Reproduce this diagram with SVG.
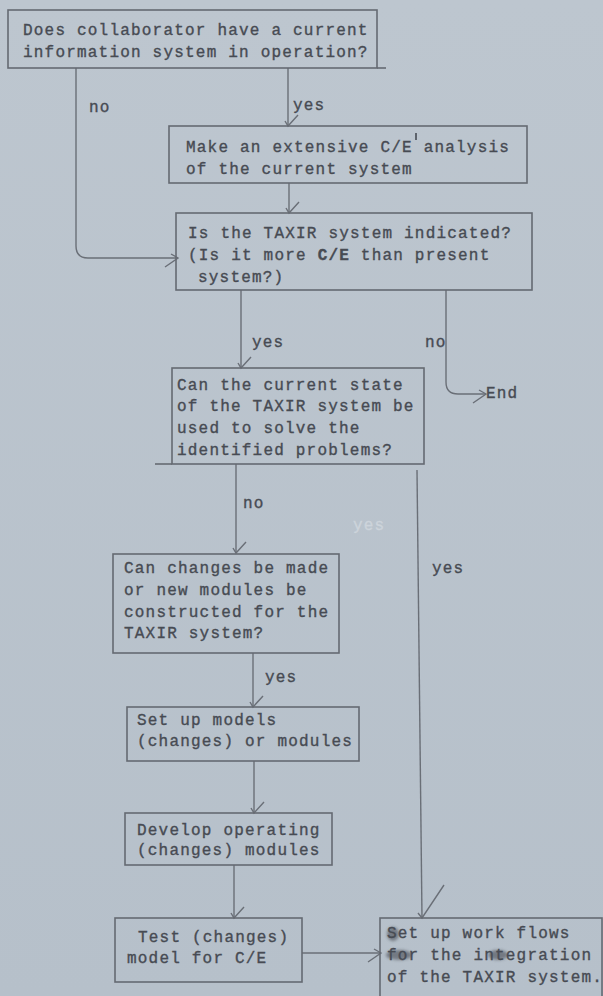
<svg xmlns="http://www.w3.org/2000/svg" width="603" height="996" viewBox="0 0 603 996">
<defs>
<style>
.box{fill:none;stroke:#656a72;stroke-width:1.6}
.ln{fill:none;stroke:#6a6f77;stroke-width:1.4}
.t{font-family:"Liberation Mono","DejaVu Sans Mono",monospace;font-size:16px;letter-spacing:1.2px;fill:#474b53;stroke:#474b53;stroke-width:0.35}
.faint{fill:#cdd4db;stroke:#cdd4db}
</style>
<linearGradient id="bgg" x1="0" y1="0" x2="0" y2="1">
<stop offset="0" stop-color="#bdc6cf"/>
<stop offset="1" stop-color="#b6c0ca"/>
</linearGradient>
<filter id="blur"><feGaussianBlur stdDeviation="1.6"/></filter>
<marker id="ad" markerUnits="userSpaceOnUse" orient="auto" overflow="visible" markerWidth="1" markerHeight="1" refX="0" refY="0">
<path d="M-5,3 L0,0 L-11,-10" fill="none" stroke="#6a6f77" stroke-width="1.4"/>
</marker>
<marker id="ar" markerUnits="userSpaceOnUse" orient="auto" overflow="visible" markerWidth="1" markerHeight="1" refX="0" refY="0">
<path d="M-7,-4 L0,0 L-13,9" fill="none" stroke="#6a6f77" stroke-width="1.4"/>
</marker>
</defs>
<rect x="0" y="0" width="603" height="996" fill="url(#bgg)"/>

<g id="connectors">
<path class="ln" d="M76,68 V246 Q76,258 88,258 H178" marker-end="url(#ar)"/>
<path class="ln" d="M288,68 V126" marker-end="url(#ad)"/>
<path class="ln" d="M289,183 V213" marker-end="url(#ad)"/>
<path class="ln" d="M241,290 V368" marker-end="url(#ad)"/>
<path class="ln" d="M446,290 V382 Q446,394 458,394 H486" marker-end="url(#ar)"/>
<path class="ln" d="M236,464 V553" marker-end="url(#ad)"/>
<path class="ln" d="M253,653 V707" marker-end="url(#ad)"/>
<path class="ln" d="M254,761 V813" marker-end="url(#ad)"/>
<path class="ln" d="M234,865 V918" marker-end="url(#ad)"/>
<path class="ln" d="M302,953 H381" marker-end="url(#ar)"/>
<path class="ln" d="M417,470 L422,918"/>
<path class="ln" d="M418,913 L422,918 L444,885"/>
</g>

<g id="labels">
<text class="t" x="89" y="112">no</text>
<text class="t" x="293" y="110">yes</text>
<text class="t" x="252" y="347">yes</text>
<text class="t" x="425" y="347">no</text>
<text class="t" x="486" y="398">End</text>
<text class="t" x="243" y="508">no</text>
<text class="t faint" x="353" y="530">yes</text>
<text class="t" x="432" y="573">yes</text>
<text class="t" x="265" y="682">yes</text>
</g>

<g id="n1">
<rect class="box" x="8" y="10" width="369" height="58"/>
<line class="box" x1="377" y1="68" x2="386" y2="68"/>
<text class="t" x="23" y="35">Does collaborator have a current</text>
<text class="t" x="23" y="57">information system in operation?</text>
</g>

<g id="n2">
<rect class="box" x="169" y="126" width="358" height="57"/>
<text class="t" x="186" y="152">Make an extensive C/E analysis</text>
<line x1="416" y1="133" x2="416" y2="140" stroke="#474b53" stroke-width="1.6"/>
<text class="t" x="186" y="174">of the current system</text>
</g>

<g id="n3">
<rect class="box" x="176" y="213" width="356" height="77"/>
<text class="t" x="188" y="238">Is the TAXIR system indicated?</text>
<text class="t" x="188" y="260">(Is it more <tspan font-weight="bold">C/E</tspan> than present</text>
<text class="t" x="198" y="282">system?)</text>
</g>

<g id="n4">
<rect class="box" x="172" y="368" width="252" height="96"/>
<line class="box" x1="155" y1="464" x2="172" y2="464"/>
<text class="t" x="177" y="390">Can the current state</text>
<text class="t" x="177" y="411">of the TAXIR system be</text>
<text class="t" x="177" y="433">used to solve the</text>
<text class="t" x="177" y="455">identified problems?</text>
</g>

<g id="n5">
<rect class="box" x="113" y="554" width="226" height="99"/>
<text class="t" x="124" y="573">Can changes be made</text>
<text class="t" x="124" y="595">or new modules be</text>
<text class="t" x="124" y="617">constructed for the</text>
<text class="t" x="124" y="638">TAXIR system?</text>
</g>

<g id="n6">
<rect class="box" x="127" y="707" width="232" height="54"/>
<text class="t" x="137" y="725">Set up models</text>
<text class="t" x="137" y="746">(changes) or modules</text>
</g>

<g id="n7">
<rect class="box" x="125" y="813" width="207" height="52"/>
<text class="t" x="137" y="835">Develop operating</text>
<text class="t" x="137" y="855">(changes) modules</text>
</g>

<g id="n8">
<rect class="box" x="115" y="918" width="187" height="64"/>
<text class="t" x="138" y="942">Test (changes)</text>
<text class="t" x="127" y="963">model for C/E</text>
</g>

<g id="n9">
<rect class="box" x="380" y="918" width="222" height="90"/>
<g filter="url(#blur)" fill="#3c4048" opacity="0.55">
<ellipse cx="393" cy="934" rx="6" ry="7"/>
<ellipse cx="399" cy="955" rx="13" ry="5"/>
<ellipse cx="498" cy="955" rx="10" ry="5"/>
</g>
<text class="t" x="387" y="938">Set up work flows</text>
<text class="t" x="387" y="960">for the integration</text>
<text class="t" x="387" y="982">of the TAXIR system.</text>
</g>
</svg>
